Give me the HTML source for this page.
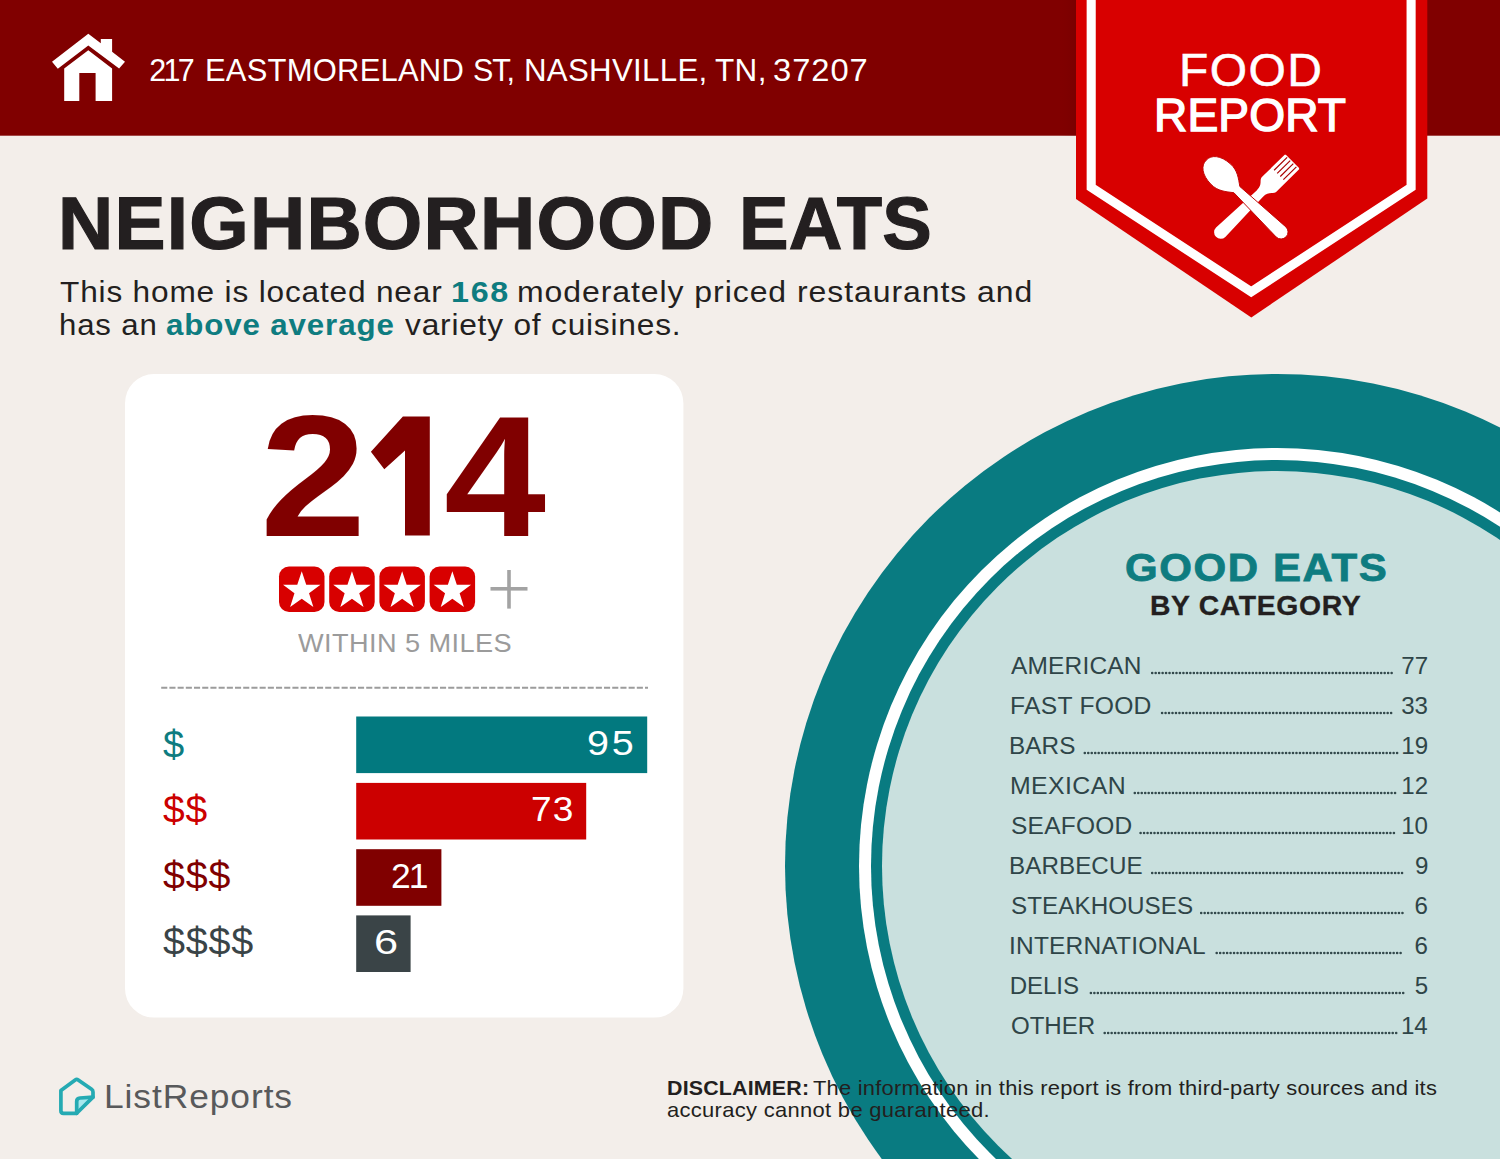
<!DOCTYPE html>
<html><head><meta charset="utf-8"><title>Food Report</title>
<style>
html,body{margin:0;padding:0;}
body{width:1500px;height:1159px;position:relative;overflow:hidden;background:#f3eeea;font-family:"Liberation Sans", sans-serif;}
.t{position:absolute;white-space:nowrap;line-height:1;font-family:"Liberation Sans", sans-serif;}
.t b{font-weight:700;}
#sub1 b,#sub2 b{color:#0e7c80;}
svg{position:absolute;left:0;top:0;}
</style></head><body>
<svg width="1500" height="1159" viewBox="0 0 1500 1159">
<defs>
<linearGradient id="shl" x1="0" x2="1" y1="0" y2="0"><stop offset="0" stop-color="#800000" stop-opacity="0"/><stop offset="1" stop-color="#600000" stop-opacity="0.22"/></linearGradient>
<linearGradient id="shr" x1="1" x2="0" y1="0" y2="0"><stop offset="0" stop-color="#800000" stop-opacity="0"/><stop offset="1" stop-color="#600000" stop-opacity="0.22"/></linearGradient>
</defs>
<!-- circle -->
<circle cx="1277" cy="866" r="492" fill="#097b81"/>
<circle cx="1277" cy="866" r="418" fill="#ffffff"/>
<circle cx="1277" cy="866" r="406" fill="#097b81"/>
<circle cx="1277" cy="866" r="395" fill="#c9e0de"/>
<!-- header -->
<rect x="0" y="0" width="1500" height="135.7" fill="#800000"/>
<rect x="1058" y="0" width="18" height="136" fill="url(#shl)"/>
<!-- badge -->
<polygon points="1076,0 1427.3,0 1427.3,198.6 1251.3,317.5 1076,199" fill="#d80000"/>
<path d="M1091.2,-10 L1091.2,187.3 L1251.2,291.8 L1411.1,187.3 L1411.1,-10" fill="none" stroke="#fff" stroke-width="9.1" stroke-linejoin="miter"/>
<!-- fork -->
<g transform="translate(1220.7,232.2) rotate(-44.6)" fill="#fff">
<path d="M0,-6.6 A6.6,6.6 0 0 0 0,6.6 L55,4.5 C60,4.4 62,6 64.5,8.6 C66.5,10.5 68,10.3 70.5,10.3 L100,10.3 L100.8,9.4 L100.8,-9.4 L100,-10.3 L70.5,-10.3 C68,-10.3 66.5,-10.5 64.5,-8.6 C62,-6 60,-4.4 55,-4.5 Z"/>
<g stroke="#a80000" stroke-width="1.2"><line x1="81.5" y1="-6.6" x2="99.8" y2="-6.6"/><line x1="81.5" y1="-2.2" x2="99.8" y2="-2.2"/><line x1="81.5" y1="2.2" x2="99.8" y2="2.2"/><line x1="81.5" y1="6.6" x2="99.8" y2="6.6"/></g>
</g>
<!-- spoon -->
<g transform="translate(1206.2,160.2) rotate(43.8)" fill="#fff" stroke="#c00000" stroke-width="0.9">
<path d="M0,0 C-0.3,-7.5 7,-13.6 20,-14.1 C30,-14.5 36,-9 42.5,-4.3 L103.7,-7 A7,7 0 0 1 103.7,7 L42.5,4.3 C36,9 30,14.5 20,14.1 C7,13.6 -0.3,7.5 0,0 Z"/>
</g>
<!-- house icon -->
<g fill="#fff">
<polygon points="88.3,33.7 52,61.7 57.8,68.7 88.3,45.5 119.1,68.5 125,61.7 112.1,51.8 112.1,38.9 100.8,38.9 100.8,43.3"/>
<polygon points="88.3,50.3 64.2,68.5 64.2,100.9 79.3,100.9 79.3,73.1 95.6,73.1 95.6,100.9 112.1,100.9 112.1,68.5"/>
</g>
<!-- card -->
<rect x="125" y="374" width="558.4" height="643.6" rx="29" ry="29" fill="#ffffff"/>
<!-- big 1 -->
<polygon fill="#800000" points="402.9,416.5 370.9,451.7 384.3,469.2 405,450.6 405,535.5 429.8,535.5 429.8,416.5"/>
<!-- stars -->
<g id="stars">
<g transform="translate(279,566.5)"><rect width="45.5" height="45.5" rx="10" fill="#d80000"/><polygon fill="#fff" transform="translate(22.75,23.9) scale(1.08) translate(-22.75,-22.75)" points="22.75,5 26.9,17.5 40.1,17.6 29.5,25.5 33.5,38.1 22.75,30.4 12,38.1 16,25.5 5.4,17.6 18.6,17.5"/></g>
<g transform="translate(329.2,566.5)"><rect width="45.5" height="45.5" rx="10" fill="#d80000"/><polygon fill="#fff" transform="translate(22.75,23.9) scale(1.08) translate(-22.75,-22.75)" points="22.75,5 26.9,17.5 40.1,17.6 29.5,25.5 33.5,38.1 22.75,30.4 12,38.1 16,25.5 5.4,17.6 18.6,17.5"/></g>
<g transform="translate(379.4,566.5)"><rect width="45.5" height="45.5" rx="10" fill="#d80000"/><polygon fill="#fff" transform="translate(22.75,23.9) scale(1.08) translate(-22.75,-22.75)" points="22.75,5 26.9,17.5 40.1,17.6 29.5,25.5 33.5,38.1 22.75,30.4 12,38.1 16,25.5 5.4,17.6 18.6,17.5"/></g>
<g transform="translate(429.6,566.5)"><rect width="45.5" height="45.5" rx="10" fill="#d80000"/><polygon fill="#fff" transform="translate(22.75,23.9) scale(1.08) translate(-22.75,-22.75)" points="22.75,5 26.9,17.5 40.1,17.6 29.5,25.5 33.5,38.1 22.75,30.4 12,38.1 16,25.5 5.4,17.6 18.6,17.5"/></g>
</g>
<!-- plus -->
<rect x="490.5" y="587" width="37" height="3.6" fill="#a3a3a3"/>
<rect x="507.2" y="570" width="3.6" height="38.6" fill="#a3a3a3"/>
<!-- dashed line -->
<line x1="161.2" y1="687.7" x2="648" y2="687.7" stroke="#9c9c9c" stroke-width="2" stroke-dasharray="6.1 2.1"/>
<!-- bars -->
<rect x="356.2" y="716.5" width="291" height="56.6" fill="#02797f"/>
<rect x="356.2" y="782.9" width="230" height="56.6" fill="#cc0000"/>
<rect x="356.2" y="849.2" width="85.2" height="56.6" fill="#800000"/>
<rect x="356.2" y="915.4" width="54.4" height="56.6" fill="#3a4447"/>
<!-- ListReports logo -->
<path d="M76.7,1113.3 L76.7,1101.5 Q76.7,1098.2 80,1098 L93,1097.1 Z" fill="#a8e8ee"/>
<g fill="none" stroke="#25aab3" stroke-width="3.7" stroke-linejoin="round" stroke-linecap="round">
<path d="M76.7,1113.3 L63.5,1113.3 Q60.9,1113.3 60.9,1110.7 L60.9,1090.4 L75.2,1079.9 Q76.7,1078.8 78.2,1079.9 L91.6,1089.3 Q93,1090.3 93,1092 L93,1097.1 Z"/>
<path d="M76.7,1113.3 L76.7,1101.5 Q76.7,1098.2 80,1098 L93,1097.1"/>
</g>
</svg>

<svg width="1500" height="1159" viewBox="0 0 1500 1159"><g stroke="#33494c" stroke-width="2.6" stroke-linecap="round" stroke-dasharray="0.01 3.46"><line x1="1152.2" y1="673.0" x2="1392.0" y2="673.0"/><line x1="1162.1" y1="713.0" x2="1392.0" y2="713.0"/><line x1="1084.8" y1="753.0" x2="1397.5" y2="753.0"/><line x1="1134.8" y1="793.0" x2="1397.5" y2="793.0"/><line x1="1140.6" y1="833.0" x2="1396.0" y2="833.0"/><line x1="1152.2" y1="873.0" x2="1403.5" y2="873.0"/><line x1="1201.2" y1="913.0" x2="1403.5" y2="913.0"/><line x1="1216.7" y1="953.0" x2="1403.5" y2="953.0"/><line x1="1090.9" y1="993.0" x2="1403.5" y2="993.0"/><line x1="1104.7" y1="1033.0" x2="1397.5" y2="1033.0"/></g></svg>
<div class="t" id="ad1" style="font-size:30.5px;font-weight:400;color:#fff;top:54.68px;letter-spacing:-2.677px;left:149.18px;">217</div>
<div class="t" id="ad2" style="font-size:30.5px;font-weight:400;color:#fff;top:54.68px;letter-spacing:0.227px;transform:scaleX(1.0146);transform-origin:left center;left:205.16px;">EASTMORELAND</div>
<div class="t" id="ad3" style="font-size:30.5px;font-weight:400;color:#fff;top:54.68px;letter-spacing:-1.128px;left:473.05px;">ST,</div>
<div class="t" id="ad4" style="font-size:30.5px;font-weight:400;color:#fff;top:54.68px;letter-spacing:0.286px;transform:scaleX(1.0244);transform-origin:left center;left:524.09px;">NASHVILLE,</div>
<div class="t" id="ad5" style="font-size:30.5px;font-weight:400;color:#fff;top:54.68px;letter-spacing:0.356px;transform:scaleX(1.0310);transform-origin:left center;left:714.88px;">TN,</div>
<div class="t" id="ad6" style="font-size:30.5px;font-weight:400;color:#fff;top:54.68px;letter-spacing:0.874px;transform:scaleX(1.0735);transform-origin:left center;left:772.92px;">37207</div>
<div class="t" id="food" style="font-size:45.5px;font-weight:400;color:#fff;top:47.98px;letter-spacing:1.336px;-webkit-text-stroke:0.5px #fff;transform:scaleX(1.0549);transform-origin:left center;left:1179.34px;">FOOD</div>
<div class="t" id="report" style="font-size:46px;font-weight:400;color:#fff;top:92.46px;letter-spacing:0.094px;-webkit-text-stroke:1.4px #fff;transform:scaleX(1.0031);transform-origin:left center;left:1153.57px;">REPORT</div>
<div class="t" id="title1" style="font-size:74px;font-weight:700;color:#231f20;top:187.06px;letter-spacing:1.195px;-webkit-text-stroke:1.2px #231f20;transform:scaleX(1.0335);transform-origin:left center;left:58.09px;">NEIGHBORHOOD</div>
<div class="t" id="title2" style="font-size:74px;font-weight:700;color:#231f20;top:187.06px;letter-spacing:0.130px;-webkit-text-stroke:1.2px #231f20;transform:scaleX(1.0030);transform-origin:left center;left:739.13px;">EATS</div>
<div class="t" id="sub1a" style="font-size:29px;font-weight:400;color:#231f20;top:277.85px;letter-spacing:0.758px;transform:scaleX(1.0898);transform-origin:left center;left:59.50px;">This home is located near</div>
<div class="t" id="sub1b" style="font-size:29px;font-weight:700;color:#0e7c80;top:277.85px;letter-spacing:1.569px;transform:scaleX(1.1111);transform-origin:left center;left:451.39px;">168</div>
<div class="t" id="sub1c" style="font-size:29px;font-weight:400;color:#231f20;top:277.85px;letter-spacing:0.851px;transform:scaleX(1.1025);transform-origin:left center;left:516.96px;">moderately priced restaurants and</div>
<div class="t" id="sub2a" style="font-size:29px;font-weight:400;color:#231f20;top:311.45px;letter-spacing:0.788px;transform:scaleX(1.0746);transform-origin:left center;left:59.07px;">has an</div>
<div class="t" id="sub2b" style="font-size:29px;font-weight:700;color:#0e7c80;top:311.45px;letter-spacing:0.805px;transform:scaleX(1.0787);transform-origin:left center;left:165.63px;">above average</div>
<div class="t" id="sub2c" style="font-size:29px;font-weight:400;color:#231f20;top:311.45px;letter-spacing:0.713px;transform:scaleX(1.0932);transform-origin:left center;left:405.27px;">variety of cuisines.</div>
<div class="t" id="big2" style="font-size:172px;font-weight:700;color:#800000;top:390.00px;letter-spacing:0.000px;transform:scaleX(1.1111);transform-origin:left center;left:260.24px;">2</div>
<div class="t" id="big1" style="font-size:172px;font-weight:700;color:transparent;top:390.00px;letter-spacing:0.000px;transform:scaleX(0.3120);transform-origin:left center;left:401.24px;">1</div>
<div class="t" id="big4" style="font-size:172px;font-weight:700;color:#800000;top:390.00px;letter-spacing:0.000px;transform:scaleX(1.0666);transform-origin:left center;left:443.64px;">4</div>
<div class="t" id="within" style="font-size:26px;font-weight:400;color:#9b9b9b;top:629.79px;letter-spacing:0.411px;transform:scaleX(1.0440);transform-origin:left center;left:298.35px;">WITHIN 5 MILES</div>
<div class="t" id="d1" style="font-size:38px;font-weight:400;color:#0e7c80;top:725.83px;letter-spacing:0.000px;transform:scaleX(1.0040);transform-origin:left center;left:162.82px;">$</div>
<div class="t" id="d2" style="font-size:38px;font-weight:400;color:#cc0000;top:791.33px;letter-spacing:0.784px;transform:scaleX(1.0270);transform-origin:left center;left:162.82px;">$$</div>
<div class="t" id="d3" style="font-size:38px;font-weight:400;color:#800000;top:857.33px;letter-spacing:0.759px;transform:scaleX(1.0372);transform-origin:left center;left:162.75px;">$$$</div>
<div class="t" id="d4" style="font-size:38px;font-weight:400;color:#3a4447;top:923.13px;letter-spacing:0.730px;transform:scaleX(1.0413);transform-origin:left center;left:162.73px;">$$$$</div>
<div class="t" id="n1" style="font-size:35.5px;font-weight:400;color:#fff;top:726.25px;letter-spacing:2.506px;transform:scaleX(1.1140);transform-origin:left center;left:587.00px;">95</div>
<div class="t" id="n2" style="font-size:35.5px;font-weight:400;color:#fff;top:792.45px;letter-spacing:1.013px;transform:scaleX(1.0448);transform-origin:left center;left:530.88px;">73</div>
<div class="t" id="n3" style="font-size:35.5px;font-weight:400;color:#fff;top:858.75px;letter-spacing:-1.885px;left:391.00px;">21</div>
<div class="t" id="n4" style="font-size:35.5px;font-weight:400;color:#fff;top:924.95px;letter-spacing:0.000px;transform:scaleX(1.2199);transform-origin:left center;left:373.63px;">6</div>
<div class="t" id="ge" style="font-size:38.8px;font-weight:700;color:#0e7c80;top:549.36px;letter-spacing:1.461px;-webkit-text-stroke:0.8px #0e7c80;transform:scaleX(1.0831);transform-origin:left center;left:1125.03px;">GOOD EATS</div>
<div class="t" id="bc" style="font-size:27px;font-weight:700;color:#231f20;top:593.24px;letter-spacing:0.617px;-webkit-text-stroke:0.3px #231f20;transform:scaleX(1.0500);transform-origin:left center;left:1149.60px;">BY CATEGORY</div>
<div class="t" id="r0" style="font-size:24.1px;font-weight:400;color:#2f4548;top:653.90px;letter-spacing:0.183px;transform:scaleX(1.0158);transform-origin:left center;left:1011.41px;">AMERICAN</div>
<div class="t" id="v0" style="font-size:24.1px;font-weight:400;color:#2f4548;top:653.90px;letter-spacing:0.000px;left:1401.27px;">77</div>
<div class="t" id="r1" style="font-size:24.1px;font-weight:400;color:#2f4548;top:693.90px;letter-spacing:0.260px;transform:scaleX(1.0235);transform-origin:left center;left:1010.30px;">FAST FOOD</div>
<div class="t" id="v1" style="font-size:24.1px;font-weight:400;color:#2f4548;top:693.90px;letter-spacing:0.000px;left:1401.19px;">33</div>
<div class="t" id="r2" style="font-size:24.1px;font-weight:400;color:#2f4548;top:733.90px;letter-spacing:0.075px;transform:scaleX(1.0087);transform-origin:left center;left:1009.38px;">BARS</div>
<div class="t" id="v2" style="font-size:24.1px;font-weight:400;color:#2f4548;top:733.90px;letter-spacing:0.000px;left:1401.36px;">19</div>
<div class="t" id="r3" style="font-size:24.1px;font-weight:400;color:#2f4548;top:773.90px;letter-spacing:0.376px;transform:scaleX(1.0319);transform-origin:left center;left:1010.25px;">MEXICAN</div>
<div class="t" id="v3" style="font-size:24.1px;font-weight:400;color:#2f4548;top:773.90px;letter-spacing:0.000px;left:1401.27px;">12</div>
<div class="t" id="r4" style="font-size:24.1px;font-weight:400;color:#2f4548;top:813.90px;letter-spacing:0.234px;transform:scaleX(1.0163);transform-origin:left center;left:1010.93px;">SEAFOOD</div>
<div class="t" id="v4" style="font-size:24.1px;font-weight:400;color:#2f4548;top:813.90px;letter-spacing:0.000px;left:1401.13px;">10</div>
<div class="t" id="r5" style="font-size:24.1px;font-weight:400;color:#2f4548;top:853.90px;letter-spacing:0.057px;transform:scaleX(1.0047);transform-origin:left center;left:1009.41px;">BARBECUE</div>
<div class="t" id="v5" style="font-size:24.1px;font-weight:400;color:#2f4548;top:853.90px;letter-spacing:0.000px;left:1414.92px;">9</div>
<div class="t" id="r6" style="font-size:24.1px;font-weight:400;color:#2f4548;top:893.90px;letter-spacing:0.048px;transform:scaleX(1.0050);transform-origin:left center;left:1010.96px;">STEAKHOUSES</div>
<div class="t" id="v6" style="font-size:24.1px;font-weight:400;color:#2f4548;top:893.90px;letter-spacing:0.000px;left:1414.48px;">6</div>
<div class="t" id="r7" style="font-size:24.1px;font-weight:400;color:#2f4548;top:933.90px;letter-spacing:0.175px;transform:scaleX(1.0180);transform-origin:left center;left:1009.41px;">INTERNATIONAL</div>
<div class="t" id="v7" style="font-size:24.1px;font-weight:400;color:#2f4548;top:933.90px;letter-spacing:0.000px;left:1414.48px;">6</div>
<div class="t" id="r8" style="font-size:24.1px;font-weight:400;color:#2f4548;top:973.90px;letter-spacing:-0.117px;left:1009.81px;">DELIS</div>
<div class="t" id="v8" style="font-size:24.1px;font-weight:400;color:#2f4548;top:973.90px;letter-spacing:0.000px;left:1414.72px;">5</div>
<div class="t" id="r9" style="font-size:24.1px;font-weight:400;color:#2f4548;top:1013.90px;letter-spacing:-0.059px;left:1011.03px;">OTHER</div>
<div class="t" id="v9" style="font-size:24.1px;font-weight:400;color:#2f4548;top:1013.90px;letter-spacing:0.000px;left:1400.97px;">14</div>
<div class="t" id="lr" style="font-size:32.5px;font-weight:400;color:#58595b;top:1080.89px;letter-spacing:0.850px;transform:scaleX(1.0878);transform-origin:left center;left:103.99px;">ListReports</div>
<div class="t" id="dis1a" style="font-size:21px;font-weight:700;color:#231f20;top:1077.22px;letter-spacing:0.176px;transform:scaleX(1.0187);transform-origin:left center;left:667.30px;">DISCLAIMER:</div>
<div class="t" id="dis1b" style="font-size:21px;font-weight:400;color:#231f20;top:1077.22px;letter-spacing:0.235px;transform:scaleX(1.0418);transform-origin:left center;left:812.98px;">The information in this report is from third-party sources and its</div>
<div class="t" id="dis2" style="font-size:21px;font-weight:400;color:#231f20;top:1099.22px;letter-spacing:0.298px;transform:scaleX(1.0449);transform-origin:left center;left:667.06px;">accuracy cannot be guaranteed.</div>
</body></html>
